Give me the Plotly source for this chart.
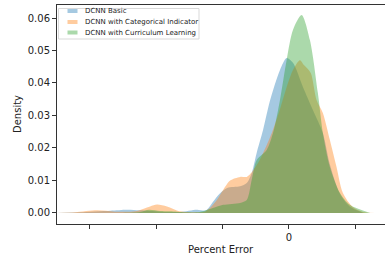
import plotly.graph_objects as go

# Percent error grid (x) and density values
basic_x = [-69.8, -62.9, -53.8, -48.7, -44.8, -38.8, -32.8, -27.7, -25.0, -22.9, -20.8, -18.6,
           -14.7, -12.7, -11.2, -9.7, -7.8, -5.7, -2.7, -0.7, 1.2, 4.2, 7.2, 10.2, 12.3, 15.3,
           18.3, 22.5]
basic_y = [0.0, 0.0002, 0.0007, 0.0010, 0.0008, 0.0004, 0.0003, 0.0010, 0.0008, 0.0034, 0.0060,
           0.0077, 0.0082, 0.0092, 0.0123, 0.0185, 0.0255, 0.0346, 0.0440, 0.0477, 0.0462, 0.0388,
           0.0317, 0.0246, 0.0150, 0.0060, 0.0020, 0.0]

cat_x = [-69.8, -64.4, -57.7, -52.3, -46.3, -41.8, -39.7, -36.7, -32.8, -28.3, -25.3, -23.8,
         -21.7, -19.8, -17.7, -14.7, -12.7, -11.2, -8.7, -5.2, -2.7, -0.3, 1.2, 3.3, 4.5, 5.4,
         6.6, 8.3, 10.2, 12.3, 14.3, 16.2, 19.2, 22.3, 25.9]
cat_y = [0.0, 0.0002, 0.0008, 0.0004, 0.0005, 0.0020, 0.0026, 0.0020, 0.0005, 0.0002, 0.0004,
         0.0015, 0.0040, 0.0071, 0.0100, 0.0111, 0.0111, 0.0125, 0.0165, 0.0245, 0.0320, 0.0400,
         0.0440, 0.0470, 0.0455, 0.0446, 0.0430, 0.0348, 0.0308, 0.0225, 0.0142, 0.0062, 0.0018,
         0.0003, 0.0]

cur_x = [-69.8, -50.8, -44.8, -42.1, -38.8, -35.8, -31.3, -26.8, -22.9, -19.8, -14.7, -12.7,
         -11.2, -9.7, -6.7, -4.8, -2.7, -0.7, 1.2, 3.8, 6.3, 8.7, 10.2, 12.3, 15.3, 18.3, 24.4]
cur_y = [0.0, 0.0, 0.0003, 0.0010, 0.0006, 0.0005, 0.0002, 0.0003, 0.0015, 0.0025, 0.0031,
         0.0040, 0.0102, 0.0163, 0.0194, 0.0246, 0.0348, 0.0471, 0.0563, 0.0609, 0.0532, 0.0369,
         0.0246, 0.0142, 0.0062, 0.0025, 0.0]

series_names = ["DCNN Basic", "DCNN with Categorical Indicator", "DCNN with Curriculum Learning"]
series_x = [basic_x, cat_x, cur_x]
series_y = [basic_y, cat_y, cur_y]
series_colors = ["rgba(31,119,180,0.4)", "rgba(255,127,14,0.4)", "rgba(44,160,44,0.4)"]

x_tick_vals = [-60, -40, -20, 0, 20]
x_tick_text = ["", "", "", "0", ""]
y_tick_vals = [0.0, 0.01, 0.02, 0.03, 0.04, 0.05, 0.06]

W, H = 385, 259
L, R, T, B = 57, 0, 5, 35
PW, PH = W - L - R, H - T - B

def px(xp):
    return (xp - L) / PW

def py(yp):
    return (H - B - yp) / PH

fig = go.Figure()
for name, xs, ys, col in zip(series_names, series_x, series_y, series_colors):
    fig.add_trace(go.Scatter(
        x=xs, y=ys, name=name, mode="lines", fill="tozeroy", fillcolor=col,
        line=dict(width=0, color=col, shape="spline", smoothing=0.8),
        hoverinfo="skip", showlegend=False,
    ))

# Custom compact legend (matplotlib style)
shapes = [dict(type="rect", xref="paper", yref="paper",
               x0=px(58.5), x1=px(199), y0=py(39), y1=py(8.5),
               line=dict(color="#d9d9d9", width=1), fillcolor="rgba(255,255,255,0.8)", layer="above")]
annotations = []
row_y = [11, 22, 32.5]
for name, col, ry in zip(series_names, series_colors, row_y):
    shapes.append(dict(type="rect", xref="paper", yref="paper",
                       x0=px(67.5), x1=px(77.5), y0=py(ry + 2), y1=py(ry - 2),
                       line=dict(width=0), fillcolor=col, layer="above"))
    annotations.append(dict(text=name, xref="paper", yref="paper", x=px(82.5), y=py(ry),
                            xanchor="left", yanchor="middle", showarrow=False,
                            font=dict(size=7, color="#222")))

annotations.append(dict(text="Percent Error", xref="paper", yref="paper",
                        x=px(221), y=py(249), xanchor="center", yanchor="middle",
                        showarrow=False, font=dict(size=10, color="#222")))
annotations.append(dict(text="Density", xref="paper", yref="paper",
                        x=px(17), y=py(114), xanchor="center", yanchor="middle",
                        textangle=-90, showarrow=False, font=dict(size=10, color="#222")))

fig.update_layout(
    width=W, height=H,
    margin=dict(l=L, r=R, t=T, b=B, autoexpand=False),
    paper_bgcolor="white", plot_bgcolor="white",
    font=dict(family="DejaVu Sans", size=10, color="#222"),
    showlegend=False,
    shapes=shapes, annotations=annotations,
)
fig.update_xaxes(
    range=[-69.8, 28.9], tickvals=x_tick_vals, ticktext=x_tick_text,
    ticks="outside", ticklen=4, tickcolor="#333",
    showline=True, linecolor="#333", linewidth=1, mirror=True,
    showgrid=False, zeroline=False, automargin=False,
)
fig.update_yaxes(
    range=[-0.0034, 0.064], tickvals=y_tick_vals, tickformat=".2f",
    ticks="outside", ticklen=4, tickcolor="#333",
    showline=True, linecolor="#333", linewidth=1,
    showgrid=False, zeroline=False, automargin=False,
)

fig.write_html(
    "out.html",
    config={"displayModeBar": False, "staticPlot": True},
    post_script="document.body.style.margin='0';document.body.style.overflow='hidden';",
)
